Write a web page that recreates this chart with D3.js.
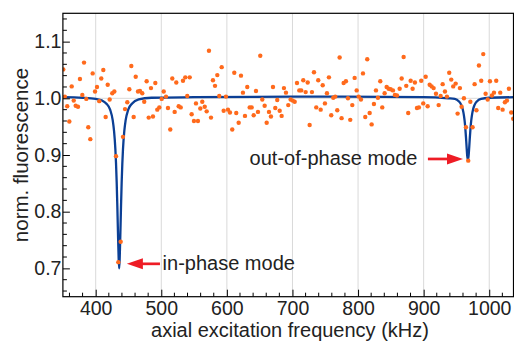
<!DOCTYPE html>
<html>
<head>
<meta charset="utf-8">
<script src="https://cdn.jsdelivr.net/npm/d3@7"></script>
<style>
  body { margin: 0; background: #fff; }
  text { font-family: "Liberation Sans", Arial, sans-serif; fill: #222; }
</style>
</head>
<body>
<div id="chart"></div>
<script>
// measured points (kHz, normalised fluorescence)
let freq = [350.6, 353.0, 356.6, 359.8, 363.4, 366.5, 369.5, 373.0, 376.0, 379.6,
    382.2, 385.7, 388.7, 391.8, 395.4, 399.0, 402.0, 405.5, 408.5, 411.6,
    415.2, 418.3, 421.3, 425.3, 428.4, 431.0, 434.5, 438.1, 441.6, 444.7,
    448.2, 451.3, 454.3, 457.9, 461.0, 464.5, 467.5, 471.0, 474.0, 477.7,
    480.8, 484.3, 487.3, 490.9, 493.9, 497.0, 500.6, 503.7, 507.2, 510.2,
    513.7, 516.8, 520.4, 522.9, 526.5, 529.6, 533.1, 536.6, 539.6, 543.3,
    546.3, 549.8, 552.9, 555.9, 559.5, 562.5, 566.2, 569.2, 572.7, 575.8,
    578.8, 581.9, 585.4, 588.4, 592.1, 595.1, 598.6, 601.7, 604.7, 608.2,
    611.3, 614.3, 618.0, 621.5, 624.5, 627.6, 631.1, 634.8, 637.8, 640.9,
    644.4, 647.4, 650.9, 654.0, 657.6, 660.7, 664.2, 667.2, 670.3, 673.8,
    676.8, 680.5, 683.5, 687.0, 690.1, 693.6, 697.2, 700.3, 703.4, 706.9,
    710.4, 713.4, 716.5, 720.1, 723.2, 726.2, 729.7, 732.8, 736.3, 739.3,
    743.0, 746.1, 749.5, 752.6, 755.6, 759.1, 762.2, 765.2, 768.3, 771.9,
    774.9, 778.0, 781.5, 784.6, 788.1, 791.2, 794.8, 797.9, 800.9, 804.4,
    807.5, 811.0, 814.0, 817.7, 820.7, 824.2, 827.3, 830.3, 833.9, 836.9,
    840.5, 843.6, 846.6, 849.7, 853.2, 856.2, 859.3, 863.4, 866.5, 869.5,
    873.5, 876.5, 880.2, 883.2, 886.7, 889.8, 892.8, 896.3, 899.4, 903.1,
    906.1, 909.2, 912.2, 915.2, 918.8, 922.9, 925.9, 929.0, 932.5, 935.5,
    939.0, 942.1, 945.1, 948.8, 951.8, 955.3, 957.9, 961.4, 964.5, 968.0,
    971.2, 974.6, 977.7, 980.5, 984.3, 987.8, 990.9, 994.5, 997.6, 1001.1,
    1004.1, 1007.2, 1010.7, 1013.7, 1016.8, 1020.4, 1023.9, 1027.0, 1030.0, 1033.5,
    1036.6];
let fluor = [1.051, 1.003, 0.986, 0.959, 1.021, 0.996, 0.987, 0.985, 1.034, 1.006,
    1.063, 0.999, 0.949, 0.928, 1.044, 1.012, 1.020, 0.995, 1.035, 1.050,
    0.967, 1.024, 0.998, 1.009, 1.012, 0.898, 0.711, 0.747, 0.932, 0.981,
    0.993, 1.016, 1.057, 0.967, 1.038, 1.012, 1.013, 1.009, 0.994, 1.030,
    0.966, 1.018, 0.968, 1.027, 0.980, 0.984, 0.999, 1.012, 1.003, 0.983,
    0.945, 1.035, 0.976, 1.028, 0.986, 0.984, 1.031, 1.037, 1.004, 1.037,
    0.972, 0.960, 0.991, 0.960, 0.982, 0.994, 0.985, 0.977, 1.084, 0.966,
    1.032, 1.022, 1.041, 1.004, 1.055, 0.978, 1.003, 0.980, 0.975, 0.945,
    1.045, 0.974, 0.957, 1.040, 1.010, 0.969, 1.020, 0.984, 0.984, 0.970,
    1.013, 0.976, 1.075, 0.998, 0.987, 0.957, 0.976, 0.968, 1.020, 0.983,
    0.997, 0.978, 0.969, 1.018, 1.010, 0.988, 0.998, 0.996, 0.994, 1.027,
    1.014, 1.014, 1.032, 1.011, 1.028, 0.953, 1.011, 1.046, 0.984, 1.032,
    0.980, 1.023, 0.991, 1.009, 1.037, 0.970, 1.001, 1.003, 0.979, 1.072,
    0.965, 1.027, 1.030, 1.000, 0.962, 0.988, 1.036, 1.014, 1.003, 0.998,
    1.044, 0.967, 1.069, 0.974, 0.954, 0.990, 1.014, 1.001, 1.030, 0.984,
    1.009, 1.020, 1.017, 1.016, 1.014, 1.006, 1.005, 1.017, 1.035, 1.073,
    1.022, 0.974, 1.031, 1.017, 1.028, 0.983, 0.984, 1.031, 0.991, 1.038,
    0.986, 1.024, 1.021, 1.018, 1.008, 0.988, 1.004, 1.025, 1.012, 1.003,
    1.045, 1.033, 1.021, 1.026, 0.973, 1.018, 0.985, 1.000, 0.949, 0.890,
    0.994, 0.949, 1.025, 0.979, 1.058, 1.031, 1.078, 1.008, 0.998, 1.030,
    1.005, 1.010, 1.031, 0.983, 1.010, 0.980, 0.993, 0.996, 1.017, 0.975,
    0.964];

// fit curve
let fitFreq = [350, 380, 400, 410, 416, 422, 426, 428, 430, 431,
    432, 433, 434, 435, 435.8, 436.6, 437.6, 438.6, 439.6, 440.6,
    441.6, 443.6, 445.6, 449.6, 455.6, 465.6, 485, 550, 700, 900,
    937.5, 947.5, 953.5, 957.5, 959.5, 961.5, 962.5, 963.5, 964.5, 965.5,
    966.5, 967.5, 968.5, 969.5, 970.5, 971.5, 972.5, 973.5, 975.5, 977.5,
    981.5, 987.5, 1000, 1040];
let fitVal = [1.002, 1.001, 0.999, 0.996, 0.991, 0.980, 0.961, 0.942, 0.910, 0.885,
    0.852, 0.809, 0.761, 0.718, 0.700, 0.718, 0.761, 0.809, 0.852, 0.885,
    0.910, 0.942, 0.961, 0.980, 0.991, 0.998, 1.001, 1.002, 1.003, 1.002,
    1.000, 0.999, 0.995, 0.988, 0.981, 0.969, 0.960, 0.948, 0.932, 0.914,
    0.898, 0.892, 0.898, 0.914, 0.932, 0.948, 0.960, 0.969, 0.981, 0.988,
    0.995, 0.999, 1.001, 1.002];

let xTicks = [400, 500, 600, 700, 800, 900, 1000];
let yTicks = [0.7, 0.8, 0.9, 1.0, 1.1];

let svgWidth = 514;
let svgHeight = 346;
let margin = {top: 13.3, left: 62.9, right: 0.5, bottom: 49.3};
let width = svgWidth - margin.left - margin.right;
let height = svgHeight - margin.top - margin.bottom;

let svg = d3.select('#chart')
    .append('svg')
    .attr('width', svgWidth)
    .attr('height', svgHeight);
let g = svg.append('g')
    .attr('transform', `translate(${margin.left}, ${margin.top})`);

let x = d3.scaleLinear().domain([350, 1037]).range([0, width]);
let y = d3.scaleLinear().domain([0.65, 1.15]).range([height, 0]);

svg.append('defs').append('clipPath').attr('id', 'clip')
    .append('rect').attr('width', width).attr('height', height);

// grid lines
g.selectAll('.vgrid')
    .data(xTicks)
    .enter()
    .append('line')
    .attr('x1', d => x(d)).attr('x2', d => x(d))
    .attr('y1', 0).attr('y2', height)
    .attr('stroke', '#d9d9d9').attr('stroke-width', 1);
g.append('line')
    .attr('x1', 0).attr('x2', width)
    .attr('y1', y(1.0)).attr('y2', y(1.0))
    .attr('stroke', '#d9d9d9').attr('stroke-width', 1);

// fit line
let line = d3.line()
    .x((d, i) => x(fitFreq[i]))
    .y(d => y(d))
    .curve(d3.curveMonotoneX);
g.append('path')
    .datum(fitVal)
    .attr('clip-path', 'url(#clip)')
    .attr('d', line)
    .attr('fill', 'none')
    .attr('stroke', '#0b3f95')
    .attr('stroke-width', 2.3);

// points
g.append('g').attr('clip-path', 'url(#clip)')
    .selectAll('circle')
    .data(freq)
    .enter()
    .append('circle')
    .attr('cx', d => x(d))
    .attr('cy', (d, i) => y(fluor[i]))
    .attr('r', 2.2)
    .attr('fill', '#ff6a1c');

// axes, ticks inward
let bottomAxis = d3.axisBottom(x).tickValues(xTicks).tickFormat(d3.format('d')).tickSize(-7).tickPadding(4);
let leftAxis = d3.axisLeft(y).tickValues(yTicks).tickFormat(d3.format('.1f')).tickSize(-7).tickPadding(1.5);

let xAx = g.append('g')
    .attr('transform', `translate(0, ${height})`)
    .call(bottomAxis);
let yAx = g.append('g').call(leftAxis);
[xAx, yAx].forEach(a => {
    a.select('.domain').remove();
    a.selectAll('line').attr('stroke', '#000');
    a.selectAll('text').style('font-size', '19.5px').attr('fill', '#222');
});

// minor ticks
let xMinor = d3.range(360, 1037, 20).filter(v => v % 100 != 0);
g.selectAll('.xminor').data(xMinor).enter().append('line')
    .attr('x1', d => x(d)).attr('x2', d => x(d))
    .attr('y1', height).attr('y2', height - 4)
    .attr('stroke', '#000');
let yMinor = d3.range(0.66, 1.15, 0.02).filter(v => Math.abs(v * 10 - Math.round(v * 10)) > 0.01);
g.selectAll('.yminor').data(yMinor).enter().append('line')
    .attr('x1', 0).attr('x2', 4)
    .attr('y1', d => y(d)).attr('y2', d => y(d))
    .attr('stroke', '#000');

// frame
g.append('rect')
    .attr('width', width).attr('height', height)
    .attr('fill', 'none').attr('stroke', '#000').attr('stroke-width', 1.2);

// axis labels
svg.append('text')
    .attr('x', 290)
    .attr('y', 337)
    .attr('text-anchor', 'middle')
    .style('font-size', '20px')
    .text('axial excitation frequency (kHz)');
svg.append('text')
    .attr('transform', 'translate(28, 155) rotate(-90)')
    .attr('text-anchor', 'middle')
    .style('font-size', '20.5px')
    .text('norm. fluorescence');

// annotations
let red = '#ee1c25';
function arrow(x0, x1, yv) {
    let ya = margin.top + y(yv);
    let xa = margin.left + x(x0);
    let xb = margin.left + x(x1);
    let dir = xb > xa ? 1 : -1;
    svg.append('line')
        .attr('x1', xa).attr('x2', xb - dir * 12)
        .attr('y1', ya).attr('y2', ya)
        .attr('stroke', red).attr('stroke-width', 2.7);
    svg.append('path')
        .attr('d', `M${xb},${ya} L${xb - dir * 16},${ya - 5.5} L${xb - dir * 16},${ya + 5.5} Z`)
        .attr('fill', red);
}
arrow(498, 447.5, 0.708);
arrow(906.5, 960, 0.893);

svg.append('text')
    .attr('x', margin.left + x(502))
    .attr('y', 270)
    .style('font-size', '20px')
    .text('in-phase mode');
svg.append('text')
    .attr('x', 417.5)
    .attr('y', 165)
    .attr('text-anchor', 'end')
    .style('font-size', '20px')
    .text('out-of-phase mode');
</script>
</body>
</html>
